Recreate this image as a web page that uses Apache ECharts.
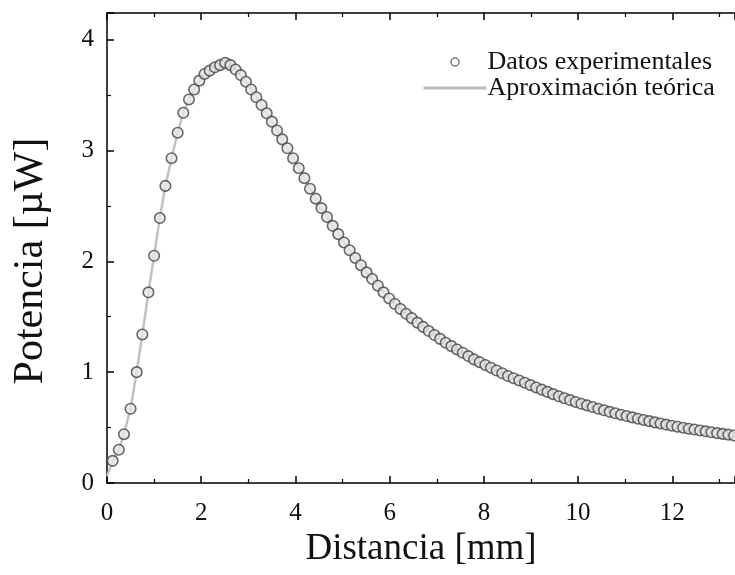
<!DOCTYPE html>
<html><head><meta charset="utf-8">
<script src="https://cdn.jsdelivr.net/npm/echarts@6/dist/echarts.min.js"></script>
<style>html,body{margin:0;padding:0;background:#fff}#c{width:735px;height:575px}</style>
</head><body><div id="c"></div>
<script>
const distX = [0.12,0.25,0.36,0.50,0.63,0.75,0.88,1.00,1.12,1.24,
1.37,1.50,1.62,1.74,1.85,1.96,2.07,2.18,2.29,2.40,
2.51,2.62,2.73,2.84,2.95,3.06,3.17,3.28,3.39,3.50,
3.61,3.72,3.83,3.95,4.07,4.19,4.31,4.43,4.55,4.67,
4.79,4.91,5.03,5.15,5.27,5.39,5.51,5.63,5.75,5.87,
5.99,6.11,6.23,6.35,6.47,6.59,6.71,6.83,6.95,7.07,
7.19,7.31,7.43,7.55,7.67,7.79,7.91,8.03,8.15,8.27,
8.39,8.51,8.63,8.75,8.87,8.99,9.11,9.23,9.35,9.47,
9.59,9.71,9.83,9.95,10.07,10.19,10.31,10.43,10.55,10.67,
10.79,10.91,11.03,11.15,11.27,11.39,11.51,11.63,11.75,11.87,
11.99,12.11,12.23,12.35,12.47,12.59,12.71,12.83,12.95,13.07,
13.19,13.31];
const potY = [0.20,0.30,0.44,0.67,1.00,1.34,1.72,2.05,2.39,2.68,
2.93,3.16,3.34,3.46,3.55,3.63,3.69,3.72,3.75,3.77,
3.79,3.77,3.73,3.68,3.62,3.55,3.48,3.41,3.335,3.26,
3.18,3.10,3.02,2.93,2.84,2.75,2.655,2.565,2.48,2.40,
2.32,2.245,2.17,2.10,2.03,1.965,1.90,1.84,1.78,1.72,
1.665,1.615,1.57,1.527,1.487,1.447,1.408,1.371,1.335,1.30,
1.265,1.235,1.205,1.175,1.145,1.115,1.09,1.065,1.04,1.015,
0.99,0.965,0.945,0.925,0.905,0.883,0.862,0.842,0.822,0.802,
0.782,0.765,0.748,0.731,0.715,0.70,0.685,0.67,0.656,0.642,
0.629,0.616,0.604,0.592,0.58,0.569,0.558,0.547,0.537,0.527,
0.517,0.508,0.499,0.49,0.482,0.474,0.466,0.458,0.45,0.443,
0.436,0.429];
const fitX = [0.00].concat(distX);
const fitY = [0.06].concat(potY);
const xTickLabels = ['0','2','4','6','8','10','12'];
const yTickLabels = ['0','1','2','3','4'];

const serif = 'Liberation Serif';
const chart = echarts.init(document.getElementById('c'));
const axisCommon = {
  type: 'value', min: 0, max: 13.33, interval: 2,
  axisLine: {show: true, onZero: false, lineStyle: {color: '#000', width: 1.5}},
  axisTick: {show: true, inside: true, length: 7, lineStyle: {color: '#000', width: 1.5}},
  minorTick: {show: true, splitNumber: 2, length: 4, lineStyle: {color: '#000', width: 1.2}},
  splitLine: {show: false}
};
chart.setOption({
  animation: false,
  backgroundColor: '#fff',
  grid: {left: 107, right: 0, top: 13, bottom: 92, containLabel: false},
  legend: {
    orient: 'vertical', left: 417, top: 44, itemWidth: 63, itemHeight: 8, itemGap: 0,
    textStyle: {fontFamily: serif, fontSize: 26, color: '#111', padding: [0,0,0,-4]},
    data: [
      {name: 'Datos experimentales', icon: 'circle', itemStyle: {color: '#fff', borderColor: '#555', borderWidth: 1.5}},
      {name: 'Aproximación teórica', itemStyle: {color: 'rgba(0,0,0,0)', borderColor: 'rgba(0,0,0,0)', borderWidth: 0, opacity: 0},
        lineStyle: {color: '#bdbdbd', width: 3}}
    ]
  },
  xAxis: [
    Object.assign({}, axisCommon, {
      position: 'bottom',
      axisLabel: {fontFamily: serif, fontSize: 25, color: '#111', margin: 18, showMaxLabel: false,
        formatter: v => xTickLabels[Math.round(v / 2)] !== undefined && Math.abs(v/2 - Math.round(v/2)) < 1e-6 ? xTickLabels[Math.round(v/2)] : ''},
      name: 'Distancia [mm]', nameLocation: 'middle', nameGap: 47,
      nameTextStyle: {fontFamily: serif, fontSize: 37, color: '#111'}
    }),
    Object.assign({}, axisCommon, {position: 'top', axisLabel: {show: false}})
  ],
  yAxis: [{
    type: 'value', min: 0, max: 4.24, interval: 1, position: 'left',
    axisLine: {show: true, onZero: false, lineStyle: {color: '#000', width: 1.5}},
    axisTick: {show: true, inside: true, length: 7, lineStyle: {color: '#000', width: 1.5}},
    minorTick: {show: true, splitNumber: 2, length: 4, lineStyle: {color: '#000', width: 1.2}},
    splitLine: {show: false},
    axisLabel: {fontFamily: serif, fontSize: 25, color: '#111', margin: 13, showMaxLabel: false,
      formatter: v => Math.abs(v - Math.round(v)) < 1e-6 && yTickLabels[Math.round(v)] !== undefined ? yTickLabels[Math.round(v)] : ''},
    name: 'Potencia [µW]', nameLocation: 'middle', nameGap: 55,
    nameTextStyle: {fontFamily: serif, fontSize: 42, color: '#111', padding: [0, 26, 0, 0]}
  }],
  series: [
    {
      name: 'Aproximación teórica', type: 'line', symbol: 'none', z: 1,
      lineStyle: {color: '#c2c2c2', width: 2.5},
      itemStyle: {color: '#c2c2c2'},
      data: fitX.map((x, i) => [x, fitY[i]])
    },
    {
      name: 'Datos experimentales', type: 'scatter', symbol: 'circle', symbolSize: 10.5, z: 2,
      itemStyle: {color: '#e6e6e6', borderColor: '#444', borderWidth: 1.6},
      data: distX.map((x, i) => [x, potY[i]])
    }
  ]
});
</script></body></html>
